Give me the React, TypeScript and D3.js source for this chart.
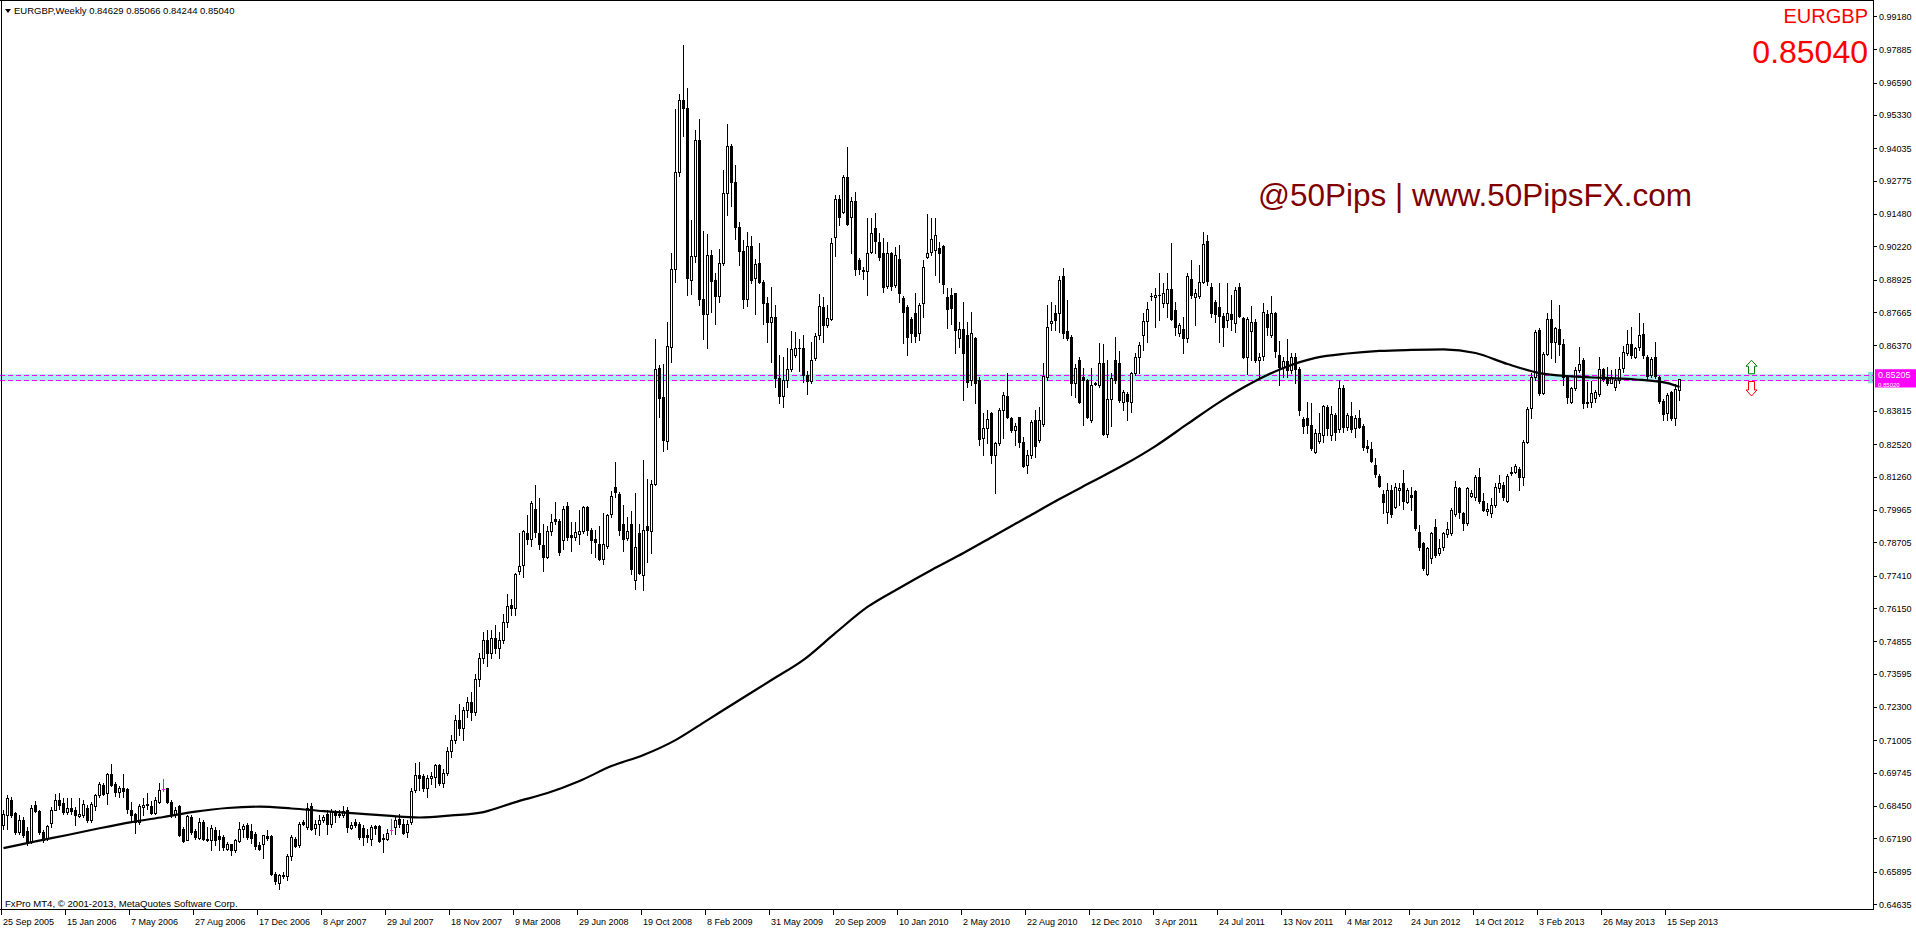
import React from "react";
import * as d3 from "d3";

// ---------- DATA (weekly EURGBP, bar 0 = week of 25 Sep 2005) ----------
const opens = [
0.6770,0.6811,0.6870,0.6818,0.6742,0.6789,0.6747,0.6705,0.6848,0.6824,
0.6742,0.6721,0.6780,0.6831,0.6867,0.6857,0.6822,0.6838,0.6831,0.6806,
0.6809,0.6837,0.6789,0.6845,0.6889,0.6926,0.6896,0.6968,0.6932,0.6900,
0.6913,0.6909,0.6828,0.6815,0.6783,0.6841,0.6854,0.6844,0.6818,0.6861,
0.6909,0.6913,0.6861,0.6815,0.6844,0.6757,0.6714,0.6802,0.6747,0.6721,
0.6783,0.6718,0.6711,0.6750,0.6727,0.6724,0.6679,0.6695,0.6672,0.6708,
0.6757,0.6770,0.6747,0.6737,0.6692,0.6698,0.6727,0.6727,0.6581,0.6546,
0.6578,0.6574,0.6651,0.6718,0.6692,0.6783,0.6763,0.6846,0.6760,0.6776,
0.6789,0.6815,0.6776,0.6818,0.6809,0.6809,0.6831,0.6760,0.6783,0.6773,
0.6760,0.6731,0.6718,0.6766,0.6766,0.6721,0.6718,0.6753,0.6763,0.6793,
0.6776,0.6744,0.6783,0.6906,0.6965,0.6961,0.6913,0.6952,0.6958,0.7004,
0.6935,0.6975,0.7060,0.7100,0.7180,0.7150,0.7220,0.7250,0.7210,0.7340,
0.7420,0.7490,0.7440,0.7500,0.7460,0.7490,0.7560,0.7628,0.7614,0.7760,
0.7781,0.7906,0.7882,0.8000,0.7906,0.7860,0.7815,0.7913,0.7961,0.7955,
0.7878,0.8010,0.7899,0.7892,0.7902,0.7913,0.8007,0.7920,0.7882,0.7864,
0.7804,0.7857,0.7980,0.8087,0.8059,0.7941,0.7888,0.7941,0.7725,0.7906,
0.7743,0.7934,0.7916,0.8096,0.8549,0.8434,0.8263,0.8632,0.8934,0.9313,
0.9591,0.9559,0.8892,0.8985,0.9434,0.8816,0.8760,0.8990,0.8892,0.8827,
0.8958,0.9230,0.9413,0.9274,0.9097,0.9003,0.8819,0.9022,0.8897,0.8958,
0.8883,0.8802,0.8726,0.8747,0.8510,0.8441,0.8503,0.8545,0.8600,0.8628,
0.8628,0.8523,0.8499,0.8587,0.8677,0.8787,0.8716,0.8738,0.9057,0.9205,
0.9157,0.9290,0.9137,0.9200,0.8969,0.8930,0.8927,0.8998,0.9092,0.9040,
0.8995,0.8869,0.8995,0.8871,0.8971,0.8820,0.8785,0.8738,0.8761,0.8684,
0.8803,0.8982,0.9001,0.9008,0.9014,0.9023,0.8823,0.8833,0.8839,0.8664,
0.8699,0.8677,0.8502,0.8664,0.8502,0.8275,0.8314,0.8372,0.8210,0.8256,
0.8385,0.8440,0.8353,0.8307,0.8357,0.8260,0.8171,0.8210,0.8346,0.8269,
0.8331,0.8515,0.8725,0.8764,0.8764,0.8907,0.8694,0.8671,0.8489,0.8580,
0.8515,0.8502,0.8346,0.8489,0.8482,0.8567,0.8292,0.8427,0.8580,0.8569,
0.8418,0.8448,0.8418,0.8528,0.8590,0.8677,0.8733,0.8829,0.8823,0.8834,
0.8803,0.8800,0.8855,0.8774,0.8686,0.8699,0.8664,0.8894,0.8823,0.8829,
0.8884,0.9044,0.8865,0.8807,0.8785,0.8751,0.8735,0.8759,0.8725,0.8862,
0.8742,0.8590,0.8694,0.8729,0.8580,0.8595,0.8759,0.8677,0.8764,0.8599,
0.8554,0.8577,0.8541,0.8590,0.8543,0.8349,0.8353,0.8327,0.8223,0.8266,
0.8288,0.8398,0.8288,0.8366,0.8310,0.8470,0.8320,0.8362,0.8314,0.8353,
0.8323,0.8245,0.8232,0.8171,0.8128,0.8058,0.7990,0.8074,0.8007,0.8074,
0.8100,0.8029,0.8054,0.8071,0.7912,0.7867,0.7747,0.7808,0.7931,0.7828,
0.7854,0.7903,0.7905,0.7981,0.8080,0.7983,0.7944,0.8050,0.8048,0.8126,
0.8032,0.7994,0.7986,0.8016,0.8080,0.8093,0.8033,0.8139,0.8145,0.8154,
0.8126,0.8262,0.8392,0.8512,0.8697,0.8450,0.8603,0.8740,0.8651,0.8699,
0.8642,0.8515,0.8418,0.8470,0.8541,0.8580,0.8418,0.8418,0.8431,0.8447,
0.8543,0.8508,0.8492,0.8476,0.8502,0.8547,0.8606,0.8642,0.8593,0.8629,
0.8681,0.8590,0.8521,0.8590,0.8512,0.8422,0.8372,0.8457,0.8353,0.84629
];
const highs = [
0.6828,0.6887,0.6880,0.6822,0.6809,0.6802,0.6763,0.6848,0.6863,0.6828,
0.6750,0.6770,0.6841,0.6893,0.6896,0.6874,0.6874,0.6874,0.6841,0.6874,
0.6867,0.6848,0.6861,0.6893,0.6939,0.6935,0.6974,0.7007,0.6939,0.6923,
0.6968,0.6913,0.6861,0.6818,0.6854,0.6874,0.6896,0.6863,0.6880,0.6936,
0.6948,0.6916,0.6867,0.6841,0.6848,0.6763,0.6809,0.6809,0.6757,0.6798,
0.6789,0.6763,0.6770,0.6763,0.6750,0.6731,0.6705,0.6698,0.6718,0.6783,
0.6773,0.6779,0.6776,0.6744,0.6705,0.6733,0.6750,0.6731,0.6587,0.6581,
0.6587,0.6659,0.6731,0.6724,0.6783,0.6789,0.6857,0.6857,0.6792,0.6809,
0.6809,0.6828,0.6835,0.6828,0.6828,0.6844,0.6841,0.6783,0.6796,0.6783,
0.6770,0.6757,0.6770,0.6770,0.6770,0.6737,0.6757,0.6796,0.6802,0.6812,
0.6796,0.6792,0.6913,0.7013,0.7017,0.6968,0.6965,0.6978,0.7007,0.7010,
0.6990,0.7075,0.7120,0.7200,0.7240,0.7230,0.7270,0.7290,0.7360,0.7440,
0.7520,0.7530,0.7530,0.7550,0.7520,0.7590,0.7670,0.7649,0.7753,0.7906,
0.7920,0.7975,0.8031,0.8094,0.8041,0.7941,0.7934,0.7980,0.8027,0.7961,
0.8010,0.8027,0.7948,0.7948,0.7996,0.8013,0.8013,0.7927,0.7920,0.7934,
0.7985,0.7982,0.8069,0.8184,0.8066,0.8017,0.7968,0.7993,0.8063,0.7941,
0.8191,0.8118,0.8114,0.8663,0.8559,0.8566,0.8726,0.8997,0.9555,0.9615,
0.9804,0.9636,0.9124,0.9476,0.9517,0.9080,0.9069,0.9008,0.8920,0.9010,
0.9319,0.9497,0.9420,0.9337,0.9115,0.9045,0.9077,0.9063,0.8971,0.9035,
0.8892,0.8823,0.8865,0.8795,0.8600,0.8593,0.8628,0.8694,0.8688,0.8663,
0.8677,0.8538,0.8649,0.8684,0.8837,0.8826,0.8794,0.9053,0.9222,0.9222,
0.9300,0.9410,0.9215,0.9235,0.8975,0.8943,0.9131,0.9131,0.9150,0.9072,
0.9053,0.9040,0.9001,0.9021,0.9027,0.8829,0.8794,0.8748,0.8839,0.8803,
0.8969,0.9148,0.9131,0.9131,0.9040,0.9027,0.8858,0.8858,0.8842,0.8729,
0.8807,0.8729,0.8768,0.8671,0.8515,0.8372,0.8385,0.8379,0.8262,0.8392,
0.8457,0.8528,0.8359,0.8333,0.8359,0.8281,0.8230,0.8346,0.8385,0.8398,
0.8569,0.8794,0.8807,0.8794,0.8907,0.8936,0.8813,0.8677,0.8564,0.8590,
0.8547,0.8504,0.8547,0.8495,0.8645,0.8642,0.8580,0.8528,0.8668,0.8616,
0.8463,0.8457,0.8534,0.8606,0.8651,0.8761,0.8807,0.8842,0.8858,0.8920,
0.8878,0.8920,0.9036,0.8807,0.8722,0.8748,0.8920,0.8969,0.8855,0.8949,
0.9079,0.9066,0.8881,0.8813,0.8878,0.8761,0.8878,0.8833,0.8865,0.8881,
0.8748,0.8746,0.8790,0.8738,0.8606,0.8800,0.8774,0.8829,0.8768,0.8655,
0.8590,0.8660,0.8608,0.8608,0.8554,0.8359,0.8418,0.8411,0.8310,0.8372,
0.8405,0.8405,0.8401,0.8372,0.8502,0.8483,0.8372,0.8418,0.8366,0.8385,
0.8331,0.8268,0.8262,0.8197,0.8136,0.8074,0.8100,0.8094,0.8100,0.8100,
0.8152,0.8080,0.8087,0.8074,0.7938,0.7873,0.7854,0.7912,0.7963,0.7883,
0.7912,0.7951,0.8003,0.8110,0.8087,0.7990,0.8087,0.8074,0.8132,0.8158,
0.8064,0.8022,0.8042,0.8100,0.8132,0.8106,0.8136,0.8165,0.8175,0.8165,
0.8268,0.8396,0.8528,0.8697,0.8703,0.8612,0.8764,0.8813,0.8710,0.8794,
0.8660,0.8521,0.8476,0.8554,0.8632,0.8586,0.8496,0.8499,0.8463,0.8593,
0.8547,0.8554,0.8541,0.8543,0.8593,0.8634,0.8697,0.8710,0.8632,0.8764,
0.8722,0.8599,0.8593,0.8651,0.8517,0.8427,0.8450,0.8460,0.8486,0.85066
];
const lows = [
0.6757,0.6757,0.6802,0.6737,0.6737,0.6724,0.6692,0.6701,0.6822,0.6737,
0.6705,0.6714,0.6763,0.6828,0.6835,0.6815,0.6815,0.6815,0.6770,0.6802,
0.6802,0.6783,0.6783,0.6828,0.6880,0.6887,0.6854,0.6923,0.6883,0.6880,
0.6880,0.6819,0.6789,0.6740,0.6776,0.6809,0.6835,0.6815,0.6815,0.6857,
0.6903,0.6857,0.6802,0.6802,0.6728,0.6705,0.6711,0.6737,0.6718,0.6718,
0.6711,0.6708,0.6672,0.6692,0.6672,0.6672,0.6672,0.6656,0.6666,0.6705,
0.6724,0.6718,0.6702,0.6679,0.6672,0.6643,0.6711,0.6578,0.6542,0.6523,
0.6565,0.6555,0.6633,0.6685,0.6685,0.6770,0.6757,0.6750,0.6737,0.6731,
0.6783,0.6737,0.6763,0.6783,0.6802,0.6802,0.6744,0.6757,0.6763,0.6718,
0.6692,0.6705,0.6692,0.6737,0.6705,0.6666,0.6711,0.6737,0.6737,0.6763,
0.6734,0.6724,0.6776,0.6900,0.6906,0.6903,0.6880,0.6932,0.6919,0.6926,
0.6920,0.6965,0.7035,0.7090,0.7120,0.7100,0.7190,0.7180,0.7200,0.7310,
0.7400,0.7390,0.7420,0.7440,0.7420,0.7480,0.7540,0.7586,0.7586,0.7746,
0.7736,0.7864,0.7857,0.7892,0.7843,0.7757,0.7808,0.7899,0.7941,0.7822,
0.7846,0.7878,0.7836,0.7878,0.7864,0.7906,0.7899,0.7829,0.7815,0.7802,
0.7788,0.7850,0.7968,0.8045,0.7899,0.7836,0.7878,0.7746,0.7690,0.7746,
0.7684,0.7795,0.7829,0.8094,0.8358,0.8225,0.8232,0.8573,0.8883,0.9295,
0.9452,0.8832,0.8837,0.8962,0.8795,0.8660,0.8628,0.8767,0.8719,0.8805,
0.8948,0.9142,0.9177,0.9052,0.8948,0.8781,0.8788,0.8878,0.8760,0.8878,
0.8719,0.8649,0.8573,0.8476,0.8413,0.8396,0.8476,0.8538,0.8593,0.8538,
0.8496,0.8448,0.8489,0.8580,0.8663,0.8651,0.8710,0.8735,0.8984,0.9105,
0.9150,0.9105,0.8995,0.8910,0.8914,0.8894,0.8833,0.8995,0.8995,0.8969,
0.8846,0.8858,0.8852,0.8865,0.8807,0.8645,0.8599,0.8651,0.8651,0.8658,
0.8748,0.8975,0.8988,0.8910,0.8884,0.8839,0.8703,0.8720,0.8606,0.8632,
0.8424,0.8476,0.8482,0.8411,0.8249,0.8210,0.8256,0.8178,0.8061,0.8249,
0.8275,0.8353,0.8301,0.8249,0.8240,0.8165,0.8139,0.8197,0.8204,0.8262,
0.8323,0.8502,0.8697,0.8697,0.8690,0.8664,0.8658,0.8444,0.8437,0.8411,
0.8327,0.8353,0.8340,0.8482,0.8476,0.8288,0.8281,0.8323,0.8489,0.8418,
0.8385,0.8346,0.8379,0.8522,0.8528,0.8619,0.8651,0.8813,0.8710,0.8735,
0.8787,0.8748,0.8735,0.8677,0.8673,0.8606,0.8651,0.8820,0.8716,0.8820,
0.8878,0.8871,0.8748,0.8729,0.8651,0.8634,0.8710,0.8697,0.8690,0.8748,
0.8586,0.8525,0.8580,0.8573,0.8508,0.8580,0.8677,0.8671,0.8590,0.8483,
0.8515,0.8515,0.8528,0.8489,0.8366,0.8297,0.8294,0.8230,0.8217,0.8256,
0.8262,0.8288,0.8268,0.8268,0.8301,0.8301,0.8307,0.8301,0.8281,0.8314,
0.8230,0.8223,0.8184,0.8126,0.8087,0.7983,0.7944,0.7970,0.8003,0.8016,
0.7999,0.8022,0.7996,0.7918,0.7841,0.7763,0.7743,0.7789,0.7815,0.7821,
0.7841,0.7892,0.7899,0.7973,0.7964,0.7918,0.7937,0.8048,0.8035,0.8022,
0.7994,0.7977,0.7970,0.8009,0.8067,0.8035,0.8029,0.8132,0.8139,0.8074,
0.8093,0.8256,0.8353,0.8502,0.8444,0.8447,0.8599,0.8586,0.8573,0.8599,
0.8483,0.8411,0.8411,0.8463,0.8534,0.8392,0.8398,0.8398,0.8418,0.8440,
0.8499,0.8483,0.8489,0.8463,0.8489,0.8534,0.8599,0.8586,0.8586,0.8619,
0.8586,0.8505,0.8515,0.8508,0.8414,0.8346,0.8346,0.8346,0.8327,0.84244
];
const closes = [
0.6815,0.6874,0.6811,0.6742,0.6792,0.6731,0.6701,0.6838,0.6825,0.6742,
0.6711,0.6766,0.6831,0.6870,0.6848,0.6822,0.6838,0.6825,0.6809,0.6812,
0.6854,0.6789,0.6854,0.6887,0.6929,0.6893,0.6968,0.6927,0.6900,0.6913,
0.6903,0.6835,0.6809,0.6783,0.6844,0.6848,0.6848,0.6818,0.6867,0.6906,
0.6909,0.6861,0.6815,0.6831,0.6731,0.6708,0.6805,0.6744,0.6724,0.6783,
0.6718,0.6714,0.6760,0.6711,0.6718,0.6685,0.6698,0.6675,0.6711,0.6754,
0.6766,0.6724,0.6721,0.6688,0.6679,0.6731,0.6721,0.6581,0.6552,0.6577,
0.6571,0.6651,0.6724,0.6688,0.6776,0.6773,0.6837,0.6757,0.6776,0.6792,
0.6802,0.6773,0.6825,0.6809,0.6815,0.6825,0.6763,0.6770,0.6770,0.6724,
0.6724,0.6724,0.6763,0.6760,0.6708,0.6716,0.6740,0.6753,0.6789,0.6773,
0.6740,0.6773,0.6903,0.6965,0.6955,0.6913,0.6952,0.6961,0.7004,0.6935,
0.6975,0.7060,0.7100,0.7180,0.7150,0.7220,0.7250,0.7210,0.7340,0.7420,
0.7490,0.7440,0.7500,0.7460,0.7490,0.7560,0.7624,0.7614,0.7749,0.7777,
0.7913,0.7885,0.8024,0.7910,0.7864,0.7815,0.7913,0.7948,0.7955,0.7832,
0.7999,0.7892,0.7892,0.7910,0.7913,0.8007,0.7920,0.7878,0.7871,0.7804,
0.7864,0.7975,0.8052,0.8066,0.7920,0.7885,0.7913,0.7767,0.7854,0.7753,
0.7920,0.7920,0.8096,0.8545,0.8430,0.8267,0.8635,0.8934,0.9313,0.9591,
0.9559,0.8897,0.8985,0.9434,0.8816,0.8760,0.8990,0.8888,0.8830,0.8958,
0.9230,0.9413,0.9274,0.9097,0.9003,0.8819,0.9022,0.8892,0.8955,0.8883,
0.8802,0.8726,0.8747,0.8510,0.8441,0.8503,0.8545,0.8624,0.8628,0.8627,
0.8521,0.8499,0.8580,0.8674,0.8788,0.8716,0.8742,0.9036,0.9205,0.9135,
0.9290,0.9109,0.9200,0.8932,0.8932,0.8927,0.8997,0.9075,0.9044,0.8979,
0.8865,0.8995,0.8869,0.8988,0.8839,0.8768,0.8668,0.8684,0.8673,0.8794,
0.8940,0.8995,0.9049,0.9066,0.8995,0.8875,0.8777,0.8781,0.8697,0.8699,
0.8606,0.8495,0.8686,0.8489,0.8271,0.8314,0.8349,0.8210,0.8256,0.8385,
0.8444,0.8359,0.8307,0.8323,0.8260,0.8167,0.8210,0.8340,0.8245,0.8346,
0.8517,0.8710,0.8733,0.8735,0.8891,0.8686,0.8664,0.8489,0.8547,0.8418,
0.8502,0.8359,0.8482,0.8488,0.8567,0.8292,0.8427,0.8508,0.8502,0.8424,
0.8457,0.8421,0.8528,0.8590,0.8638,0.8733,0.8777,0.8828,0.8833,0.8833,
0.8839,0.8855,0.8738,0.8710,0.8716,0.8664,0.8907,0.8833,0.8839,0.8884,
0.9031,0.8888,0.8764,0.8759,0.8751,0.8710,0.8764,0.8738,0.8852,0.8751,
0.8590,0.8738,0.8729,0.8580,0.8593,0.8768,0.8707,0.8764,0.8616,0.8554,
0.8577,0.8541,0.8590,0.8543,0.8385,0.8323,0.8327,0.8236,0.8294,0.8297,
0.8401,0.8314,0.8370,0.8301,0.8470,0.8320,0.8366,0.8310,0.8353,0.8320,
0.8243,0.8236,0.8188,0.8136,0.8089,0.8029,0.8074,0.7981,0.8087,0.8080,
0.8032,0.8074,0.8048,0.7925,0.7854,0.7769,0.7847,0.7905,0.7821,0.7847,
0.7905,0.7921,0.7996,0.8084,0.7990,0.7944,0.8080,0.8064,0.8126,0.8032,
0.7996,0.7999,0.8016,0.8084,0.8100,0.8048,0.8129,0.8145,0.8167,0.8123,
0.8262,0.8388,0.8512,0.8690,0.8450,0.8603,0.8740,0.8651,0.8703,0.8642,
0.8515,0.8434,0.8470,0.8541,0.8564,0.8411,0.8411,0.8453,0.8457,0.8543,
0.8505,0.8489,0.8515,0.8502,0.8543,0.8612,0.8642,0.8599,0.8625,0.8677,
0.8599,0.8517,0.8582,0.8517,0.8422,0.8370,0.8444,0.8353,0.8466,0.85040
];

// moving average (at every 8th bar)
const maBars = [0,8,16,24,32,40,48,56,64,72,80,88,96,104,112,120,128,136,144,152,160,168,176,184,192,200,208,216,224,232,240,248,256,264,272,280,288,296,304,312,320,328,336,344,352,360,368,376,384,392,400,408,416,419];
const maValues = [0.6681,0.6707,0.6732,0.6758,0.6782,0.6802,0.6823,0.6837,0.6842,0.6835,0.6825,0.6816,0.6807,0.6800,0.6808,0.6821,0.6860,0.6895,0.6942,0.7000,0.7043,0.7101,0.7179,0.7257,0.7335,0.7413,0.7518,0.7619,0.7693,0.7763,0.7829,0.7899,0.7969,0.8039,0.8105,0.8171,0.8245,0.8331,0.8416,0.8490,0.8549,0.8588,0.8605,0.8615,0.8619,0.8621,0.8607,0.8564,0.8529,0.8516,0.8510,0.8504,0.8490,0.8475];

const priceTicks = [0.99180,0.97885,0.96590,0.95330,0.94035,0.92775,0.91480,0.90220,0.88925,0.87665,0.86370,0.83815,0.82520,0.81260,0.79965,0.78705,0.77410,0.76150,0.74855,0.73595,0.72300,0.71005,0.69745,0.68450,0.67190,0.65895,0.64635];
const dateLabels = ["25 Sep 2005","15 Jan 2006","7 May 2006","27 Aug 2006","17 Dec 2006","8 Apr 2007","29 Jul 2007","18 Nov 2007","9 Mar 2008","29 Jun 2008","19 Oct 2008","8 Feb 2009","31 May 2009","20 Sep 2009","10 Jan 2010","2 May 2010","22 Aug 2010","12 Dec 2010","3 Apr 2011","24 Jul 2011","13 Nov 2011","4 Mar 2012","24 Jun 2012","14 Oct 2012","3 Feb 2013","26 May 2013","15 Sep 2013"];
const dateLabelStep = 16;

const symbol = "EURGBP";
const timeframe = "Weekly";
const lastBar = { open: "0.84629", high: "0.85066", low: "0.84244", close: "0.85040" };
const levelPrice = 0.85205;
const bidPrice = 0.8502;
const bandTop = 0.8525;
const bandBottom = 0.8497;
const arrowBar = 437;
const watermark = "@50Pips | www.50PipsFX.com";
const copyright = "FxPro MT4, \u00a9 2001-2013, MetaQuotes Software Corp.";

const FONT = "'Liberation Sans', Arial, sans-serif";

export default function App() {
  const W = 1916, H = 928;
  const plotRight = 1873;
  const plotBottom = 909;
  const n = closes.length;
  const x = d3.scaleLinear().domain([0, 419]).range([3.5, 1679.5]);
  const y = d3.scaleLinear().domain([0.64635, 0.9918]).range([904, 16]);

  const candles = [];
  for (let i = 0; i < n; i++) {
    const o = opens[i], h = highs[i], l = lows[i], c = closes[i];
    const cx = Math.floor(x(i));
    const yh = Math.round(y(h)), yl = Math.round(y(l));
    if (o === c) {
      const yc = Math.round(y(c));
      candles.push(
        <g key={i} fill="#ff00ff">
          <rect x={cx} y={yh} width={1} height={yl - yh + 1} />
          <rect x={cx - 1} y={yc} width={3} height={1} />
        </g>
      );
      continue;
    }
    const yt = Math.round(y(Math.max(o, c)));
    const yb = Math.round(y(Math.min(o, c)));
    const bh = Math.max(1, yb - yt + 1);
    const bull = c > o;
    candles.push(
      <g key={i}>
        <rect x={cx} y={yh} width={1} height={Math.max(1, yl - yh + 1)} fill="#000" />
        <rect x={cx - 1} y={yt} width={3} height={bh} fill="#000" />
        {bull && bh > 2 ? <rect x={cx} y={yt + 1} width={1} height={bh - 2} fill="#fff" /> : null}
      </g>
    );
  }

  const maLine = d3.line<number>()
    .x((d, i) => x(maBars[i]))
    .y((d) => y(d))
    .curve(d3.curveMonotoneX)(maValues) || "";

  const yLevel = y(levelPrice);
  const yBid = y(bidPrice);
  const ax = x(arrowBar);

  return (
    <svg width={W} height={H} viewBox={`0 0 ${W} ${H}`}
      style={{ position: "absolute", left: 0, top: 0, background: "#fff", display: "block" }}
      fontFamily={FONT}>
      <rect x={0} y={0} width={W} height={H} fill="#fff" />
      {/* band + lines */}
      <rect x={0} y={y(bandTop)} width={plotRight} height={y(bandBottom) - y(bandTop)} fill="#afeeee" />
      <rect x={plotRight - 5} y={y(bandTop) - 2} width={5} height={y(bandBottom) - y(bandTop) + 4} fill="#8fd8d8" />
      <line x1={0} x2={plotRight} y1={Math.round(yLevel) + 0.5} y2={Math.round(yLevel) + 0.5} stroke="#ff00ff" strokeDasharray="5,3" />
      <line x1={0} x2={plotRight} y1={Math.round(yBid) + 0.5} y2={Math.round(yBid) + 0.5} stroke="#ff00ff" strokeDasharray="5,3" />

      <g shapeRendering="crispEdges">{candles}</g>
      <path d={maLine} fill="none" stroke="#000" strokeWidth={2.2} />

      {/* arrows */}
      <path d={`M${ax},${yLevel - 15} L${ax + 5.5},${yLevel - 9} L${ax + 3},${yLevel - 9} L${ax + 3},${yLevel - 1.5} L${ax - 3},${yLevel - 1.5} L${ax - 3},${yLevel - 9} L${ax - 5.5},${yLevel - 9} Z`}
        fill="#fff" stroke="#008000" strokeWidth={1} />
      <path d={`M${ax},${yBid + 16} L${ax + 5.5},${yBid + 10} L${ax + 3},${yBid + 10} L${ax + 3},${yBid + 1.5} L${ax - 3},${yBid + 1.5} L${ax - 3},${yBid + 10} L${ax - 5.5},${yBid + 10} Z`}
        fill="#fff" stroke="#ff0000" strokeWidth={1} />

      {/* frame */}
      <g shapeRendering="crispEdges" stroke="#000" strokeWidth={1}>
        <line x1={0} x2={plotRight} y1={0.5} y2={0.5} />
        <line x1={1.5} x2={1.5} y1={0} y2={plotBottom} />
        <line x1={plotRight + 0.5} x2={plotRight + 0.5} y1={0} y2={plotBottom + 1} />
        <line x1={0} x2={plotRight + 1} y1={plotBottom + 0.5} y2={plotBottom + 0.5} />
        {priceTicks.map((p) => (
          <line key={p} x1={plotRight + 1} x2={plotRight + 4} y1={Math.round(y(p)) + 0.5} y2={Math.round(y(p)) + 0.5} />
        ))}
        {dateLabels.map((d, k) => (
          <line key={d} x1={Math.floor(x(k * dateLabelStep)) - 1.5} x2={Math.floor(x(k * dateLabelStep)) - 1.5} y1={plotBottom + 1} y2={plotBottom + 6} />
        ))}
      </g>

      {/* price labels */}
      <g fontSize={9} fill="#000">
        {priceTicks.map((p) => (
          <text key={p} x={plotRight + 6} y={y(p) + 3.5}>{p.toFixed(5)}</text>
        ))}
        {dateLabels.map((d, k) => (
          <text key={d} x={Math.floor(x(k * dateLabelStep)) + 0} y={925}>{d}</text>
        ))}
      </g>

      {/* magenta price labels (the lower one is mostly covered by the upper one) */}
      <rect x={plotRight + 2} y={yBid - 6} width={W - plotRight - 2} height={13.5} fill="#ff00ff" />
      <text x={plotRight + 5} y={yBid + 7.5} fontSize={6} fill="#fff">{bidPrice.toFixed(5)}</text>
      <rect x={plotRight + 2} y={yLevel - 6} width={W - plotRight - 2} height={12} fill="#ff00ff" />
      <text x={plotRight + 5} y={yLevel + 3} fontSize={9} fill="#fff">{levelPrice.toFixed(5)}</text>

      {/* header */}
      <path d="M5,9 L11,9 L8,13 Z" fill="#000" />
      <text x={14} y={14} fontSize={9.5} fill="#000">
        {`${symbol},${timeframe}  ${lastBar.open} ${lastBar.high} ${lastBar.low} ${lastBar.close}`}
      </text>
      <text x={1868} y={23} fontSize={20} fill="#ff0000" textAnchor="end">{symbol}</text>
      <text x={1868} y={63} fontSize={32} fill="#ff0000" textAnchor="end">{lastBar.close}</text>
      <text x={1258} y={206} fontSize={31.5} fill="#800000">{watermark}</text>
      <text x={5} y={907} fontSize={9.6} fill="#000">{copyright}</text>
    </svg>
  );
}
